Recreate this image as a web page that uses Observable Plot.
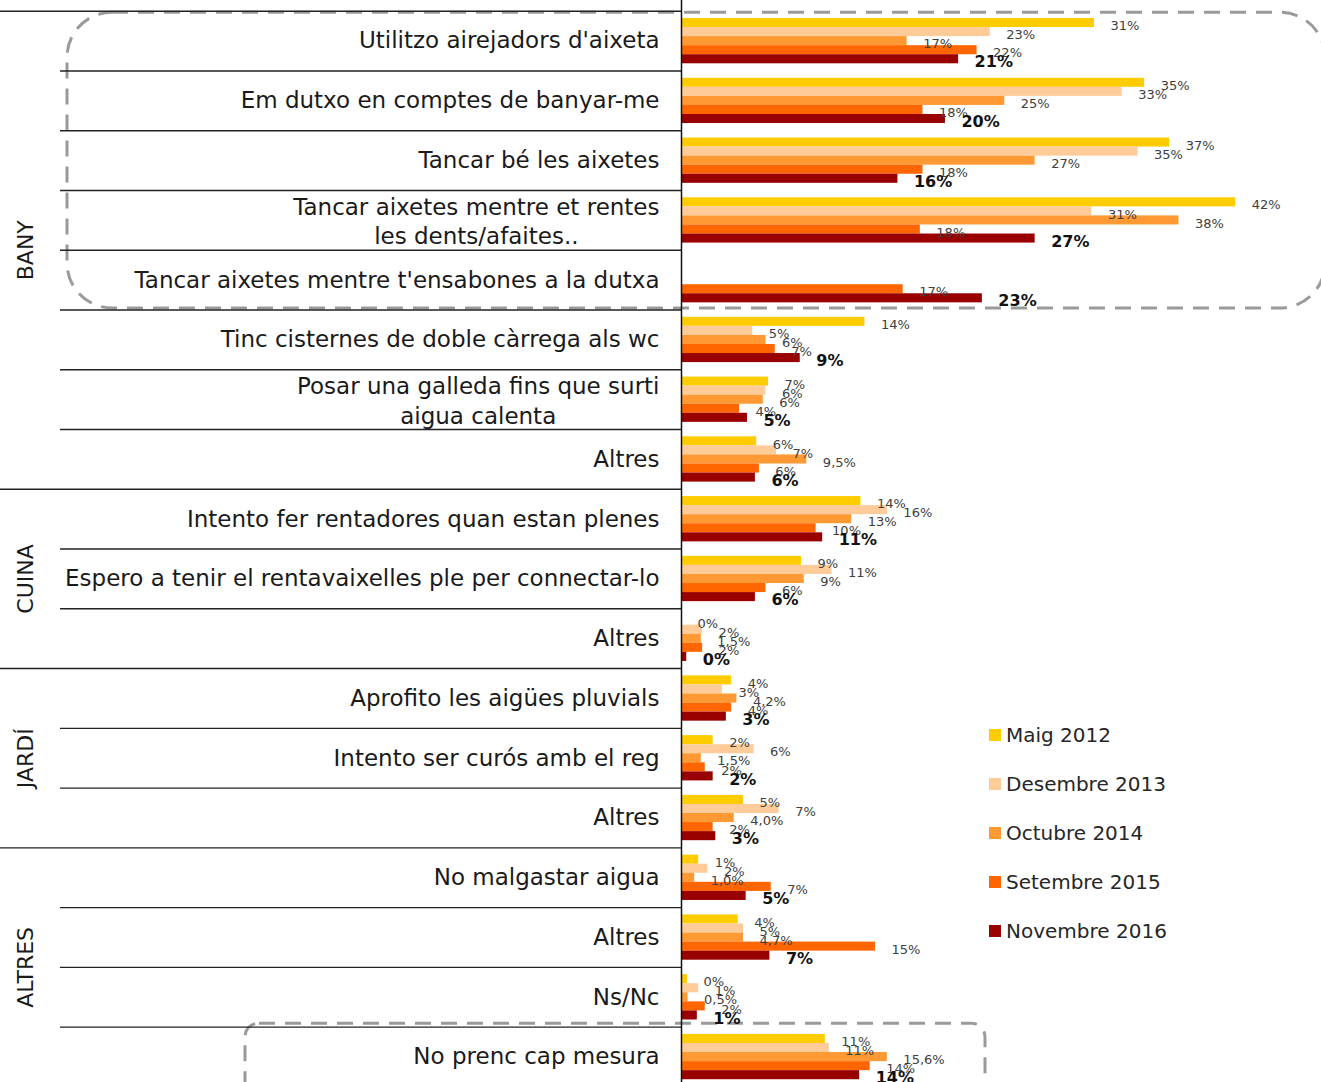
<!DOCTYPE html>
<html><head><meta charset="utf-8">
<script src="https://cdn.jsdelivr.net/npm/d3@7"></script>
<script src="https://cdn.jsdelivr.net/npm/@observablehq/plot@0.6"></script>
<style>
body{margin:0;background:#fff;}
#wrap{position:relative;width:1321px;height:1082px;overflow:hidden;}
#legend{position:absolute;left:989px;top:711px;font-family:"DejaVu Sans",sans-serif;font-size:20px;color:#262626;}
#legend .item{display:flex;align-items:center;height:48.8px;white-space:nowrap;}
#legend .sw{width:12px;height:12px;margin-right:5px;}
</style></head><body><div id="wrap"></div>
<script>
// ---- data ----
const rows = [
  "Utilitzo airejadors d'aixeta",
  "Em dutxo en comptes de banyar-me",
  "Tancar bé les aixetes",
  "Tancar aixetes mentre et rentes\nles dents/afaites..",
  "Tancar aixetes mentre t'ensabones a la dutxa",
  "Tinc cisternes de doble càrrega als wc",
  "Posar una galleda fins que surti\naigua calenta",
  "Altres",
  "Intento fer rentadores quan estan plenes",
  "Espero a tenir el rentavaixelles ple per connectar-lo",
  "Altres",
  "Aprofito les aigües pluvials",
  "Intento ser curós amb el reg",
  "Altres",
  "No malgastar aigua",
  "Altres",
  "Ns/Nc",
  "No prenc cap mesura"
];
const rowGroups = ["BANY","BANY","BANY","BANY","BANY","BANY","BANY","BANY",
  "CUINA","CUINA","CUINA","JARDÍ","JARDÍ","JARDÍ","ALTRES","ALTRES","ALTRES","ALTRES"];
const groupNames = ["BANY","CUINA","JARDÍ","ALTRES"];
const seriesNames = ["Maig 2012","Desembre 2013","Octubre 2014","Setembre 2015","Novembre 2016"];
const seriesColors = ["#FFCC00","#FFCC99","#FF9933","#FF6600","#990000"];

const maig2012 = [31.3,35.1,37.0,42.0,null,13.9,6.6,5.7,13.6,9.1,0,3.8,2.4,4.7,1.3,4.3,0.45,10.9];
const maig2012Labels = ["31%","35%","37%","42%",null,"14%","7%","6%","14%","9%","0%","4%","2%","5%","1%","4%","0%","11%"];
const desembre2013 = [23.4,33.4,34.6,31.1,null,5.4,6.4,7.2,15.6,11.4,1.6,3.1,5.5,7.4,2.0,4.7,1.3,11.2];
const desembre2013Labels = ["23%","33%","35%","31%",null,"5%","6%","7%","16%","11%","2%","3%","6%","7%","2%","5%","1%","11%"];
const octubre2014 = [17.1,24.5,26.8,37.7,null,6.4,6.2,9.5,12.9,9.3,1.5,4.2,1.5,4.0,1.0,4.7,0.5,15.6];
const octubre2014Labels = ["17%","25%","27%","38%",null,"6%","6%","9,5%","13%","9%","1,5%","4,2%","1,5%","4,0%","1,0%","4,7%","0,5%","15,6%"];
const setembre2015 = [22.4,18.3,18.3,18.1,16.8,7.1,4.4,5.9,10.2,6.4,1.6,3.8,1.8,2.4,6.8,14.7,1.8,14.3];
const setembre2015Labels = ["22%","18%","18%","18%","17%","7%","4%","6%","10%","6%","2%","4%","2%","2%","7%","15%","2%","14%"];
const novembre2016 = [21.0,20.0,16.4,26.8,22.8,9.0,5.0,5.6,10.7,5.6,0.4,3.4,2.4,2.6,4.9,6.7,1.2,13.5];
const novembre2016Labels = ["21%","20%","16%","27%","23%","9%","5%","6%","11%","6%","0%","3%","2%","3%","5%","7%","1%","14%"];

const seriesValues = [maig2012, desembre2013, octubre2014, setembre2015, novembre2016];
const seriesLabels = [maig2012Labels, desembre2013Labels, octubre2014Labels, setembre2015Labels, novembre2016Labels];

// ---- build table ----
const BAR_OFF = 0.122, BAR_H = 0.1516;
const data = [];
seriesNames.forEach((s, si) => {
  rows.forEach((r, ri) => {
    const v = seriesValues[si][ri];
    if (v == null) return;
    data.push({row: ri, series: s, si, value: v, label: seriesLabels[si][ri],
      y1: ri + BAR_OFF + si * BAR_H, y2: ri + BAR_OFF + (si + 1) * BAR_H});
  });
});
const rowData = rows.map((r, i) => ({i, name: r, multi: r.includes("\n")}));
const bounds = rows.map((r, i) => ({i, full: i === 0 || rowGroups[i] !== rowGroups[i - 1]}));
const groupData = groupNames.map(g => {
  const idx = rowGroups.map((x, i) => x === g ? i : -1).filter(i => i >= 0);
  return {name: g, mid: (idx[0] + idx[idx.length - 1] + 1) / 2};
});

const FONT = "DejaVu Sans";
const LABEL_SIZE = 23;
const ctx = document.createElement("canvas").getContext("2d");
ctx.font = `${LABEL_SIZE}px "${FONT}"`;
const labelGap = 22;

const marks = [
  Plot.rect([{}], {x1: 0, x2: 48.5, y1: 0, y2: 5, insetLeft: -614, insetRight: -4, insetTop: 1.5, insetBottom: 1.5,
    rx: 45, fill: "none", stroke: "#9a9a9a", strokeWidth: 3, strokeDasharray: "16,10"}),
  Plot.rect([{}], {x1: 0, x2: 0, y1: 17, y2: 18, insetLeft: -436, insetRight: -304, insetTop: -3.5, insetBottom: -12,
    rx: 14, fill: "none", stroke: "#9a9a9a", strokeWidth: 3, strokeDasharray: "16,10"}),
  Plot.ruleY(bounds.filter(d => d.full), {y: "i", insetLeft: -681, insetRight: 640, stroke: "#222", strokeWidth: 1.4}),
  Plot.ruleY(bounds.filter(d => !d.full), {y: "i", insetLeft: -621, insetRight: 640, stroke: "#222", strokeWidth: 1.4}),
  Plot.rectX(data, {x1: 0, x2: "value", y1: "y1", y2: "y2", fill: "series"}),
  Plot.text(data.filter(d => d.si < 4), {x: "value", y: d => (d.y1 + d.y2) / 2, text: "label", dx: 16, dy: 3,
    textAnchor: "start", fontSize: 13, fill: "#404040", fontFamily: FONT}),
  Plot.text(data.filter(d => d.si === 4), {x: "value", y: d => (d.y1 + d.y2) / 2, text: "label", dx: 16, dy: 3,
    textAnchor: "start", fontSize: 16, fontWeight: "bold", fill: "#111", fontFamily: FONT}),
  Plot.ruleX([0], {stroke: "#111", strokeWidth: 1.5}),
  Plot.text(rowData.filter(d => !d.multi), {x: 0, y: d => d.i + 0.5, text: "name", dx: -labelGap, textAnchor: "end",
    fontSize: LABEL_SIZE, fill: "#1a1a1a", fontFamily: FONT}),
  Plot.text(groupData, {x: 0, y: "mid", text: "name", rotate: -90, dx: -656, fontSize: 22, fill: "#1a1a1a", fontFamily: FONT})
];
rowData.filter(d => d.multi).forEach(d => {
  const w = d3.max(d.name.split("\n"), l => ctx.measureText(l).width);
  marks.push(Plot.text([d], {x: 0, y: d.i + 0.5, text: "name", dx: -labelGap - w / 2, textAnchor: "middle",
    lineHeight: 1.27, fontSize: LABEL_SIZE, fill: "#1a1a1a", fontFamily: FONT}));
});

const chart = Plot.plot({
  width: 1321, height: 1082,
  marginLeft: 681, marginRight: 0, marginTop: 0, marginBottom: 0,
  style: {background: "#fff", overflow: "hidden"},
  x: {domain: [0, 48.5], axis: null},
  y: {domain: [0, 18], range: [10.7, 1086.4], axis: null},
  color: {domain: seriesNames, range: seriesColors},
  marks
});
const wrap = document.getElementById("wrap");
wrap.appendChild(chart);

const legend = document.createElement("div");
legend.id = "legend";
seriesNames.forEach((s, i) => {
  const it = document.createElement("div");
  it.className = "item";
  it.innerHTML = `<div class="sw" style="background:${seriesColors[i]}"></div><span>${s}</span>`;
  legend.appendChild(it);
});
wrap.appendChild(legend);
</script>
</body></html>
